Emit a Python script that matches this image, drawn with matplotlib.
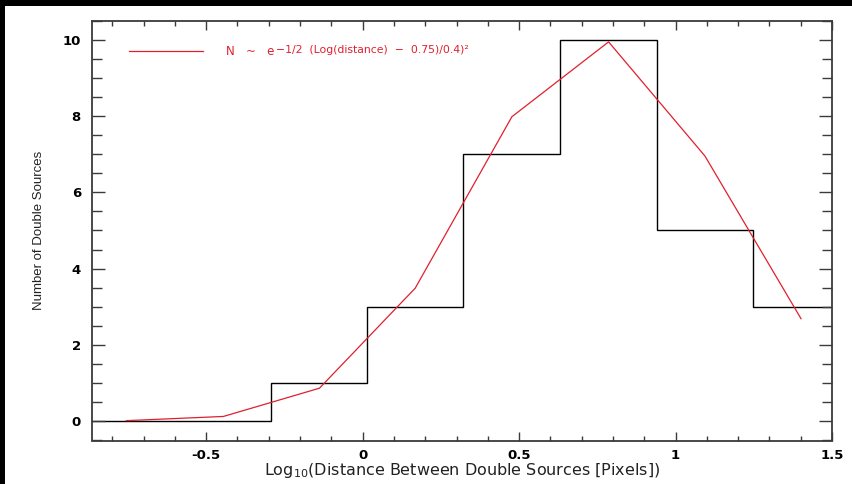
import matplotlib
matplotlib.use("Agg")
import matplotlib.pyplot as plt
from matplotlib.patches import Rectangle
from matplotlib.ticker import MultipleLocator

# ========== Data ==========
# histogram bin edges and counts (last bin runs past the right axis)
bin_edges = [-0.910, -0.601, -0.293, 0.015, 0.322, 0.631, 0.940, 1.248, 1.556]
counts = [0, 0, 1, 3, 7, 10, 5, 3]

# gaussian model evaluated at bin centres
model_x = [-0.755, -0.445, -0.138, 0.168, 0.477, 0.786, 1.094, 1.401]
model_y = [0.02, 0.13, 0.87, 3.49, 7.98, 9.94, 6.95, 2.69]

legend_line_x = [-0.748, -0.511]
legend_y = 9.70
legend_base = "N   ~   e"
legend_exp = "\u22121/2  (Log(distance)  \u2212  0.75)/0.4)\u00b2"

x_label = r"Log$_{10}$(Distance Between Double Sources [Pixels])"
y_label = "Number of Double Sources"

RED = "#e0202e"
FRAME = "#3a3a3a"

# ========== Figure ==========
W, H = 853, 484
fig = plt.figure(figsize=(W / 100, H / 100), dpi=100, facecolor="white")

# black scan borders at top and left of the original image
fig.add_artist(Rectangle((0, 1 - 5.5 / H), 1, 5.5 / H, transform=fig.transFigure,
                         facecolor="black", edgecolor="none"))
fig.add_artist(Rectangle((0, 0), 5.0 / W, 1, transform=fig.transFigure,
                         facecolor="black", edgecolor="none"))

ax = fig.add_axes([92 / W, (H - 440.5) / H, 740 / W, 420 / H])
ax.set_facecolor("white")

ax.stairs(counts, bin_edges, baseline=None, color="black", linewidth=1.0)
ax.plot(model_x, model_y, color=RED, linewidth=0.9)

# legend drawn inside the axes like the IDL original
ax.plot(legend_line_x, [legend_y, legend_y], color=RED, linewidth=0.9)
base = ax.text(-0.437, legend_y, legend_base, color=RED, fontsize=8.5,
               va="center", ha="left")
ax.annotate(legend_exp, xy=(1, 0.6), xycoords=base, xytext=(1.5, 0),
            textcoords="offset points", color=RED, fontsize=7.8,
            va="center", ha="left")

ax.set_xlim(-0.865, 1.5)
ax.set_ylim(-0.5, 10.5)

ax.xaxis.set_major_locator(MultipleLocator(0.5))
ax.xaxis.set_minor_locator(MultipleLocator(0.1))
ax.yaxis.set_major_locator(MultipleLocator(2))
ax.yaxis.set_minor_locator(MultipleLocator(0.5))
ax.xaxis.set_major_formatter(plt.FuncFormatter(lambda v, p: f"{v:g}"))

ax.tick_params(axis="x", which="both", direction="in", top=True, bottom=True,
               color=FRAME, width=1.0)
ax.tick_params(axis="y", which="both", direction="in", left=True, right=True,
               color=FRAME, width=1.0)
ax.tick_params(axis="x", which="major", length=6.5, pad=6)
ax.tick_params(axis="x", which="minor", length=3.5)
ax.tick_params(axis="y", which="major", length=9.5, pad=8)
ax.tick_params(axis="y", which="minor", length=7)

for lab in ax.get_xticklabels() + ax.get_yticklabels():
    lab.set_fontweight("bold")
    lab.set_fontsize(9.5)

for sp in ax.spines.values():
    sp.set_color(FRAME)
    sp.set_linewidth(1.3)

ax.set_xlabel(x_label, fontsize=11.5, color="#222222")
ax.xaxis.set_label_coords(0.5, -0.05)
ax.set_ylabel(y_label, fontsize=9.5, color="#222222",
              family=["Liberation Sans", "DejaVu Sans"])
ax.yaxis.set_label_coords(-0.063, 0.5)

fig.savefig("out.png", dpi=100, facecolor="white")
